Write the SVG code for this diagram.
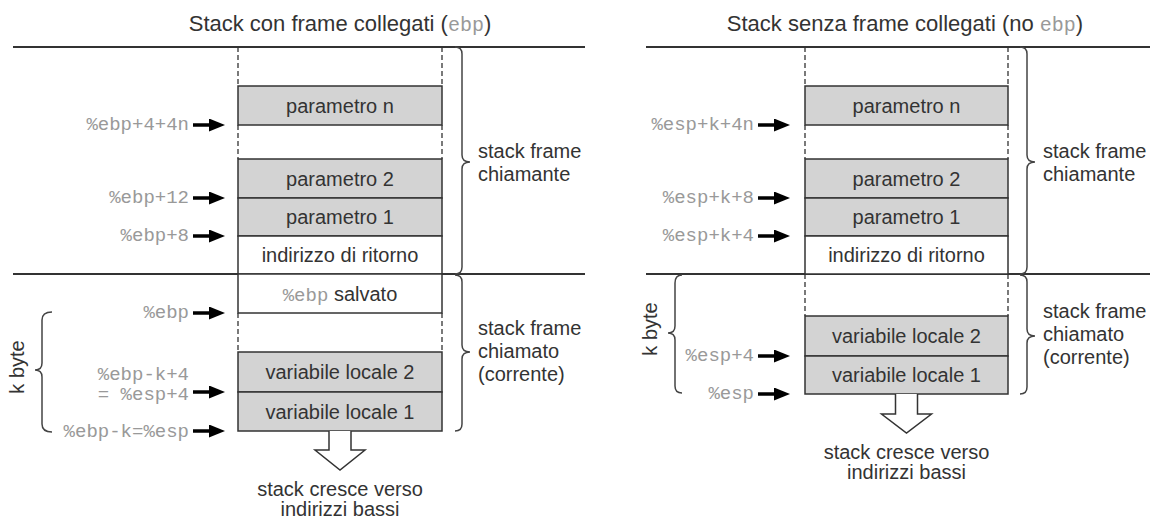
<svg xmlns="http://www.w3.org/2000/svg" width="1150" height="521" viewBox="0 0 1150 521">
<style>
.t{font-family:"Liberation Sans",Arial,sans-serif;font-size:20px;fill:#333}
.ttl{font-family:"Liberation Sans",Arial,sans-serif;font-size:22px;fill:#333}
.m{font-family:"Liberation Mono","Courier New",monospace;font-size:19px;fill:#999}
.c{text-anchor:middle}
.e{text-anchor:end}
.g{fill:#d3d3d3;stroke:#333;stroke-width:1.5}
.w{fill:#fff;stroke:#333;stroke-width:1.5}
.d{stroke:#333;stroke-width:1.3;stroke-dasharray:5 3;fill:none}
.hl{stroke:#333;stroke-width:1.8}
.br{fill:none;stroke:#444;stroke-width:1.5}
.ar{stroke:#000;stroke-width:3.5;marker-end:url(#ah)}
.big{fill:#fff;stroke:#333;stroke-width:1.5}
</style>
<defs>
<marker id="ah" markerUnits="userSpaceOnUse" markerWidth="16" markerHeight="13" refX="11" refY="6.5" orient="auto">
<path d="M0,0 L16,6.5 L0,13 z" fill="#000"/>
</marker>
</defs>

<!-- Titles -->
<text class="ttl c" x="340" y="31">Stack con frame collegati (<tspan class="m" style="font-size:20px">ebp</tspan>)</text>
<text class="ttl c" x="905" y="31">Stack senza frame collegati (no <tspan class="m" style="font-size:20px">ebp</tspan>)</text>

<!-- Horizontal lines -->
<g id="lines">
<line class="hl" x1="13" y1="47" x2="585" y2="47"/>
<line class="hl" x1="13" y1="274" x2="585" y2="274"/>
<line class="hl" x1="646" y1="47" x2="1150" y2="47"/>
<line class="hl" x1="646" y1="274" x2="1150" y2="274"/>
</g>

<!-- Left stack -->
<g id="left-stack">
<path class="d" d="M238,47 V86 M442,47 V86 M238,125 V159 M442,125 V159 M238,313 V352 M442,313 V352"/>
<g id="l-param-n"><rect class="g" x="238" y="86" width="204" height="39"/><text class="t c" x="340" y="112.5">parametro n</text></g>
<g id="l-param-2"><rect class="g" x="238" y="159" width="204" height="39"/><text class="t c" x="340" y="185.5">parametro 2</text></g>
<g id="l-param-1"><rect class="g" x="238" y="198" width="204" height="38"/><text class="t c" x="340" y="224">parametro 1</text></g>
<g id="l-ret"><rect class="w" x="238" y="236" width="204" height="38"/><text class="t c" x="340" y="262">indirizzo di ritorno</text></g>
<g id="l-saved"><rect class="w" x="238" y="274" width="204" height="39"/><text class="t c" x="340" y="300.5"><tspan class="m">%ebp</tspan> salvato</text></g>
<g id="l-var-2"><rect class="g" x="238" y="352" width="204" height="40"/><text class="t c" x="340" y="379">variabile locale 2</text></g>
<g id="l-var-1"><rect class="g" x="238" y="392" width="204" height="39"/><text class="t c" x="340" y="418.5">variabile locale 1</text></g>
<g id="l-grow">
<path class="big" d="M329,431 V450 H315 L340,470 L365,450 H351 V431"/>
<text class="t c" x="340" y="496">stack cresce verso</text>
<text class="t c" x="340" y="516">indirizzi bassi</text>
</g>
</g>

<!-- Left labels -->
<g id="left-labels">
<text class="m e" x="189" y="130">%ebp+4+4n</text>
<text class="m e" x="189" y="203">%ebp+12</text>
<text class="m e" x="189" y="241">%ebp+8</text>
<text class="m e" x="189" y="318">%ebp</text>
<text class="m e" x="189" y="380">%ebp-k+4</text>
<text class="m e" x="189" y="400">= %esp+4</text>
<text class="m e" x="189" y="437">%ebp-k=%esp</text>
<text class="t c" transform="translate(24,367) rotate(-90)">k byte</text>
<path class="br" d="M52,312 Q42,312 42,320 V363 Q42,370 35,370 Q42,370 42,377 V424 Q42,432 52,432"/>
<path class="br" d="M455,47 Q462,47 462,54 V155 Q462,162 470,162 Q462,162 462,169 V267 Q462,274 455,274"/>
<path class="br" d="M455,275 Q462,275 462,282 V345 Q462,352 470,352 Q462,352 462,359 V424 Q462,431 455,431"/>
<text class="t" x="478" y="158">stack frame</text>
<text class="t" x="478" y="181">chiamante</text>
<text class="t" x="478" y="335">stack frame</text>
<text class="t" x="478" y="358">chiamato</text>
<text class="t" x="478" y="381">(corrente)</text>
</g>

<!-- Right stack -->
<g id="right-stack">
<path class="d" d="M805,47 V86 M1008,47 V86 M805,125 V159 M1008,125 V159 M805,274 V316 M1008,274 V316"/>
<g id="r-param-n"><rect class="g" x="805" y="86" width="203" height="39"/><text class="t c" x="906.5" y="112.5">parametro n</text></g>
<g id="r-param-2"><rect class="g" x="805" y="159" width="203" height="39"/><text class="t c" x="906.5" y="185.5">parametro 2</text></g>
<g id="r-param-1"><rect class="g" x="805" y="198" width="203" height="38"/><text class="t c" x="906.5" y="224">parametro 1</text></g>
<g id="r-ret"><rect class="w" x="805" y="236" width="203" height="38"/><text class="t c" x="906.5" y="262">indirizzo di ritorno</text></g>
<g id="r-var-2"><rect class="g" x="805" y="316" width="203" height="40"/><text class="t c" x="906.5" y="343">variabile locale 2</text></g>
<g id="r-var-1"><rect class="g" x="805" y="356" width="203" height="38"/><text class="t c" x="906.5" y="382">variabile locale 1</text></g>
<g id="r-grow">
<path class="big" d="M895.5,394 V414 H881.5 L906.5,433 L931.5,414 H917.5 V394"/>
<text class="t c" x="906.5" y="459">stack cresce verso</text>
<text class="t c" x="906.5" y="479">indirizzi bassi</text>
</g>
</g>

<!-- Right labels -->
<g id="right-labels">
<text class="m e" x="754" y="130">%esp+k+4n</text>
<text class="m e" x="754" y="203">%esp+k+8</text>
<text class="m e" x="754" y="241">%esp+k+4</text>
<text class="m e" x="754" y="361">%esp+4</text>
<text class="m e" x="754" y="399">%esp</text>
<text class="t c" transform="translate(657,329) rotate(-90)">k byte</text>
<path class="br" d="M682,275 Q675,275 675,283 V326 Q675,333 668,333 Q675,333 675,340 V386 Q675,393 682,393"/>
<path class="br" d="M1020,47 Q1027,47 1027,54 V155 Q1027,162 1035,162 Q1027,162 1027,169 V267 Q1027,274 1020,274"/>
<path class="br" d="M1020,275 Q1027,275 1027,282 V329 Q1027,336 1035,336 Q1027,336 1027,343 V387 Q1027,394 1020,394"/>
<text class="t" x="1043" y="158">stack frame</text>
<text class="t" x="1043" y="181">chiamante</text>
<text class="t" x="1043" y="318">stack frame</text>
<text class="t" x="1043" y="341">chiamato</text>
<text class="t" x="1043" y="364">(corrente)</text>
</g>

<!-- Connectors -->
<g id="connectors">
<line class="ar" x1="193" y1="125" x2="220" y2="125"/>
<line class="ar" x1="193" y1="198" x2="220" y2="198"/>
<line class="ar" x1="193" y1="236" x2="220" y2="236"/>
<line class="ar" x1="193" y1="313" x2="220" y2="313"/>
<line class="ar" x1="193" y1="392" x2="220" y2="392"/>
<line class="ar" x1="193" y1="431" x2="220" y2="431"/>
<line class="ar" x1="758" y1="125" x2="785" y2="125"/>
<line class="ar" x1="758" y1="198" x2="785" y2="198"/>
<line class="ar" x1="758" y1="236" x2="785" y2="236"/>
<line class="ar" x1="758" y1="356" x2="785" y2="356"/>
<line class="ar" x1="758" y1="394" x2="785" y2="394"/>
</g>
</svg>
